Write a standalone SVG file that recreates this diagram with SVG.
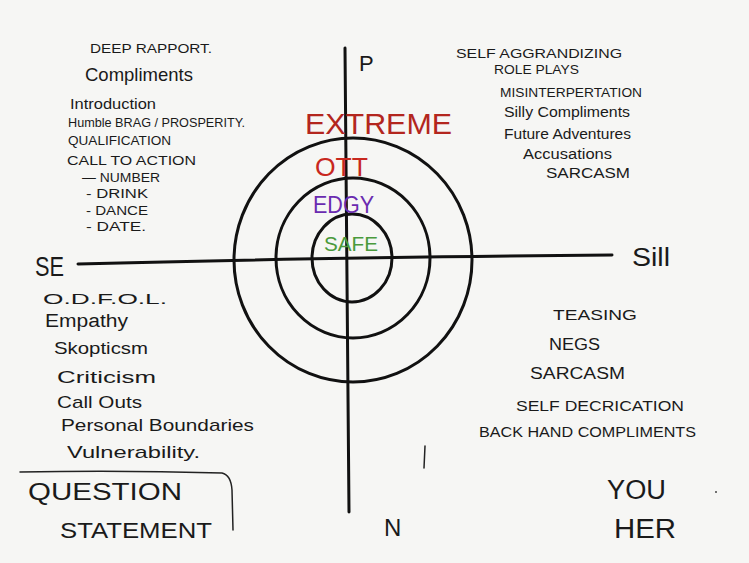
<svg xmlns="http://www.w3.org/2000/svg" width="749" height="563" viewBox="0 0 749 563">
<style>
.ink{fill:#1a1a1a;font-family:"Liberation Sans",sans-serif;}
.s{font-size:13px;}
.m{font-size:16px;}
.l{font-size:23px;}
.ln{fill:none;stroke:#111;stroke-width:3;stroke-linecap:round;}
.thin{fill:none;stroke:#222;stroke-width:1.5;stroke-linecap:round;}
</style>
<rect width="749" height="563" fill="#f6f6f4"/>
<g id="axes">
<path class="ln" d="M345 48 Q347 280 349 512"/>
<path class="ln" d="M78 264 Q300 258 612 255"/>
</g>
<g id="rings">
<ellipse class="ln" cx="352" cy="258" rx="40" ry="44"/>
<ellipse class="ln" cx="353" cy="258" rx="77" ry="80"/>
<ellipse class="ln" cx="353" cy="260" rx="119" ry="122"/>
</g>
<g id="levels" font-family="Liberation Sans, sans-serif">
<text x="305" y="134" font-size="30" fill="#b3261e" textLength="147" lengthAdjust="spacingAndGlyphs">EXTREME</text>
<text x="315" y="176" font-size="26" fill="#c8281e" textLength="53" lengthAdjust="spacingAndGlyphs">OTT</text>
<text x="313" y="213" font-size="23" fill="#6a2bb0" textLength="61" lengthAdjust="spacingAndGlyphs">EDGY</text>
<text x="324" y="251" font-size="21" fill="#4a9a3c" textLength="54" lengthAdjust="spacingAndGlyphs">SAFE</text>
</g>
<g id="poles" class="ink">
<text x="359" y="71" font-size="22">P</text>
<text x="384" y="536" font-size="24">N</text>
<text x="35" y="276" font-size="28" textLength="29" lengthAdjust="spacingAndGlyphs">SE</text>
<text x="632" y="266" font-size="26" textLength="38" lengthAdjust="spacingAndGlyphs">Sill</text>
</g>
<g id="top-left" class="ink">
<text x="90" y="53" class="s" textLength="122" lengthAdjust="spacingAndGlyphs">DEEP RAPPORT.</text>
<text x="85" y="81" font-size="19" textLength="108" lengthAdjust="spacingAndGlyphs">Compliments</text>
<text x="70" y="109" font-size="15" textLength="86" lengthAdjust="spacingAndGlyphs">Introduction</text>
<text x="68" y="127" class="s" textLength="177" lengthAdjust="spacingAndGlyphs">Humble BRAG / PROSPERITY.</text>
<text x="68" y="145" font-size="12" textLength="103" lengthAdjust="spacingAndGlyphs">QUALIFICATION</text>
<text x="67" y="165" class="s" textLength="129" lengthAdjust="spacingAndGlyphs">CALL TO ACTION</text>
<text x="82" y="182" font-size="12" textLength="78" lengthAdjust="spacingAndGlyphs">— NUMBER</text>
<text x="86" y="198" font-size="12" textLength="62" lengthAdjust="spacingAndGlyphs">- DRINK</text>
<text x="86" y="215" font-size="12" textLength="62" lengthAdjust="spacingAndGlyphs">- DANCE</text>
<text x="86" y="231" font-size="12" textLength="60" lengthAdjust="spacingAndGlyphs">- DATE.</text>
</g>
<g id="top-right" class="ink">
<text x="456" y="58" class="s" textLength="166" lengthAdjust="spacingAndGlyphs">SELF AGGRANDIZING</text>
<text x="494" y="74" class="s" textLength="85" lengthAdjust="spacingAndGlyphs">ROLE PLAYS</text>
<text x="500" y="97" class="s" textLength="142" lengthAdjust="spacingAndGlyphs">MISINTERPERTATION</text>
<text x="504" y="117" font-size="14" textLength="126" lengthAdjust="spacingAndGlyphs">Silly Compliments</text>
<text x="504" y="139" font-size="14" textLength="127" lengthAdjust="spacingAndGlyphs">Future Adventures</text>
<text x="523" y="159" font-size="14" textLength="89" lengthAdjust="spacingAndGlyphs">Accusations</text>
<text x="546" y="178" font-size="14" textLength="84" lengthAdjust="spacingAndGlyphs">SARCASM</text>
</g>
<g id="bottom-left" class="ink">
<text x="43" y="304" font-size="15" textLength="124" lengthAdjust="spacingAndGlyphs">O.D.F.O.L.</text>
<text x="45" y="327" font-size="18" textLength="83" lengthAdjust="spacingAndGlyphs">Empathy</text>
<text x="54" y="354" font-size="17" textLength="94" lengthAdjust="spacingAndGlyphs">Skopticsm</text>
<text x="57" y="383" font-size="17" textLength="99" lengthAdjust="spacingAndGlyphs">Criticism</text>
<text x="57" y="408" font-size="17" textLength="85" lengthAdjust="spacingAndGlyphs">Call Outs</text>
<text x="61" y="431" font-size="17" textLength="193" lengthAdjust="spacingAndGlyphs">Personal Boundaries</text>
<text x="67" y="458" font-size="17" textLength="133" lengthAdjust="spacingAndGlyphs">Vulnerability.</text>
</g>
<g id="bottom-right" class="ink">
<text x="553" y="320" font-size="15" textLength="84" lengthAdjust="spacingAndGlyphs">TEASING</text>
<text x="549" y="350" font-size="16" textLength="51" lengthAdjust="spacingAndGlyphs">NEGS</text>
<text x="530" y="379" font-size="16" textLength="95" lengthAdjust="spacingAndGlyphs">SARCASM</text>
<text x="516" y="411" font-size="15" textLength="168" lengthAdjust="spacingAndGlyphs">SELF DECRICATION</text>
<text x="479" y="437" font-size="15" textLength="217" lengthAdjust="spacingAndGlyphs">BACK HAND COMPLIMENTS</text>
</g>
<g id="question-statement" class="ink">
<path class="thin" d="M20 472 Q120 470 222 473 Q231 475 232 490 L233 530"/>
<text x="28" y="500" font-size="24" textLength="154" lengthAdjust="spacingAndGlyphs">QUESTION</text>
<text x="60" y="538" font-size="22" textLength="152" lengthAdjust="spacingAndGlyphs">STATEMENT</text>
</g>
<g id="you-her" class="ink">
<text x="607" y="499" font-size="27" textLength="59" lengthAdjust="spacingAndGlyphs">YOU</text>
<text x="614" y="538" font-size="27" textLength="62" lengthAdjust="spacingAndGlyphs">HER</text>
</g>
<g id="marks">
<path class="thin" d="M425 446 L424 468"/>
<circle cx="716" cy="492" r="1" fill="#444"/>
</g>
</svg>
